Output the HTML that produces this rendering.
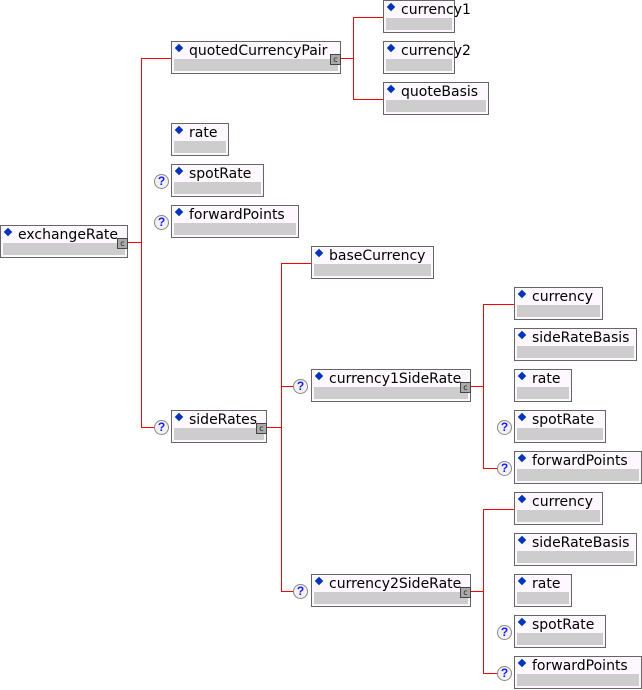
<!DOCTYPE html>
<html><head><meta charset="utf-8"><style>
body{margin:0;width:642px;height:690px;background:#fff;position:relative;overflow:hidden;font-family:"DejaVu Sans","Liberation Sans",sans-serif;}
.b{position:absolute;height:31px;border:1px solid #666;background:#fdf8fd;box-sizing:content-box}
.b .t{position:absolute;left:17px;top:1px;font-size:14px;line-height:17px;color:#000;white-space:nowrap}
.b .d{position:absolute;left:4px;top:3px;width:6px;height:6px;background:#0033bb;transform:rotate(45deg)}
.b .g{position:absolute;left:2px;right:2px;bottom:2px;height:12px;background:#cdcdcd}
.e{position:absolute;width:9px;height:9px;border:1px solid #444;background:#aaa;right:-1px;bottom:8px;font-size:8px;line-height:9px;text-align:center;color:#222}
.h{position:absolute;height:0;border-top:1px solid #f00}
.v{position:absolute;width:0;border-left:1px solid #f00}
.q{position:absolute;width:13px;height:13px;border:1px solid #888;border-radius:50%;background:#f2f2f2;color:#1a1aff;font-size:12px;font-weight:bold;line-height:13px;text-align:center;font-family:"Liberation Sans",sans-serif}
</style></head><body>

<div class="h" style="left:128px;top:242px;width:13px"></div>
<div class="v" style="left:141px;top:58px;height:370px"></div>
<div class="h" style="left:141px;top:58px;width:30px"></div>
<div class="h" style="left:141px;top:427px;width:14px"></div>

<div class="h" style="left:341px;top:58px;width:12px"></div>
<div class="v" style="left:353px;top:17px;height:83px"></div>
<div class="h" style="left:353px;top:17px;width:30px"></div>
<div class="h" style="left:353px;top:99px;width:30px"></div>

<div class="h" style="left:267px;top:427px;width:14px"></div>
<div class="v" style="left:281px;top:263px;height:329px"></div>
<div class="h" style="left:281px;top:263px;width:30px"></div>
<div class="h" style="left:281px;top:386px;width:14px"></div>
<div class="h" style="left:281px;top:591px;width:14px"></div>

<div class="h" style="left:471px;top:386px;width:13px"></div>
<div class="v" style="left:483px;top:304px;height:165px"></div>
<div class="h" style="left:483px;top:304px;width:31px"></div>
<div class="h" style="left:483px;top:468px;width:15px"></div>

<div class="h" style="left:471px;top:591px;width:13px"></div>
<div class="v" style="left:483px;top:509px;height:165px"></div>
<div class="h" style="left:483px;top:509px;width:31px"></div>
<div class="h" style="left:483px;top:673px;width:15px"></div>

<div class="b" style="left:0;top:225px;width:126px"><div class="d"></div><div class="t">exchangeRate</div><div class="g"></div><div class="e">c</div></div>
<div class="b" style="left:171px;top:41px;width:168px"><div class="d"></div><div class="t">quotedCurrencyPair</div><div class="g"></div><div class="e">c</div></div>
<div class="b" style="left:171px;top:123px;width:56px"><div class="d"></div><div class="t">rate</div><div class="g"></div></div>
<div class="q" style="left:154px;top:174px">?</div>
<div class="b" style="left:171px;top:164px;width:91px"><div class="d"></div><div class="t">spotRate</div><div class="g"></div></div>
<div class="q" style="left:154px;top:215px">?</div>
<div class="b" style="left:171px;top:205px;width:126px"><div class="d"></div><div class="t">forwardPoints</div><div class="g"></div></div>
<div class="q" style="left:154px;top:420px">?</div>
<div class="b" style="left:171px;top:410px;width:94px"><div class="d"></div><div class="t">sideRates</div><div class="g"></div><div class="e">c</div></div>

<div class="b" style="left:383px;top:0;width:70px"><div class="d"></div><div class="t">currency1</div><div class="g"></div></div>
<div class="b" style="left:383px;top:41px;width:70px"><div class="d"></div><div class="t">currency2</div><div class="g"></div></div>
<div class="b" style="left:383px;top:82px;width:104px"><div class="d"></div><div class="t">quoteBasis</div><div class="g"></div></div>

<div class="b" style="left:311px;top:246px;width:121px"><div class="d"></div><div class="t">baseCurrency</div><div class="g"></div></div>
<div class="q" style="left:293px;top:379px">?</div>
<div class="b" style="left:311px;top:369px;width:158px"><div class="d"></div><div class="t">currency1SideRate</div><div class="g"></div><div class="e">c</div></div>
<div class="q" style="left:293px;top:584px">?</div>
<div class="b" style="left:311px;top:574px;width:158px"><div class="d"></div><div class="t">currency2SideRate</div><div class="g"></div><div class="e">c</div></div>

<div class="b" style="left:514px;top:287px;width:87px"><div class="d"></div><div class="t">currency</div><div class="g"></div></div>
<div class="b" style="left:514px;top:328px;width:121px"><div class="d"></div><div class="t">sideRateBasis</div><div class="g"></div></div>
<div class="b" style="left:514px;top:369px;width:56px"><div class="d"></div><div class="t">rate</div><div class="g"></div></div>
<div class="q" style="left:497px;top:420px">?</div>
<div class="b" style="left:514px;top:410px;width:90px"><div class="d"></div><div class="t">spotRate</div><div class="g"></div></div>
<div class="q" style="left:497px;top:461px">?</div>
<div class="b" style="left:514px;top:451px;width:126px"><div class="d"></div><div class="t">forwardPoints</div><div class="g"></div></div>

<div class="b" style="left:514px;top:492px;width:87px"><div class="d"></div><div class="t">currency</div><div class="g"></div></div>
<div class="b" style="left:514px;top:533px;width:121px"><div class="d"></div><div class="t">sideRateBasis</div><div class="g"></div></div>
<div class="b" style="left:514px;top:574px;width:56px"><div class="d"></div><div class="t">rate</div><div class="g"></div></div>
<div class="q" style="left:497px;top:625px">?</div>
<div class="b" style="left:514px;top:615px;width:90px"><div class="d"></div><div class="t">spotRate</div><div class="g"></div></div>
<div class="q" style="left:497px;top:666px">?</div>
<div class="b" style="left:514px;top:656px;width:126px"><div class="d"></div><div class="t">forwardPoints</div><div class="g"></div></div>
</body></html>
